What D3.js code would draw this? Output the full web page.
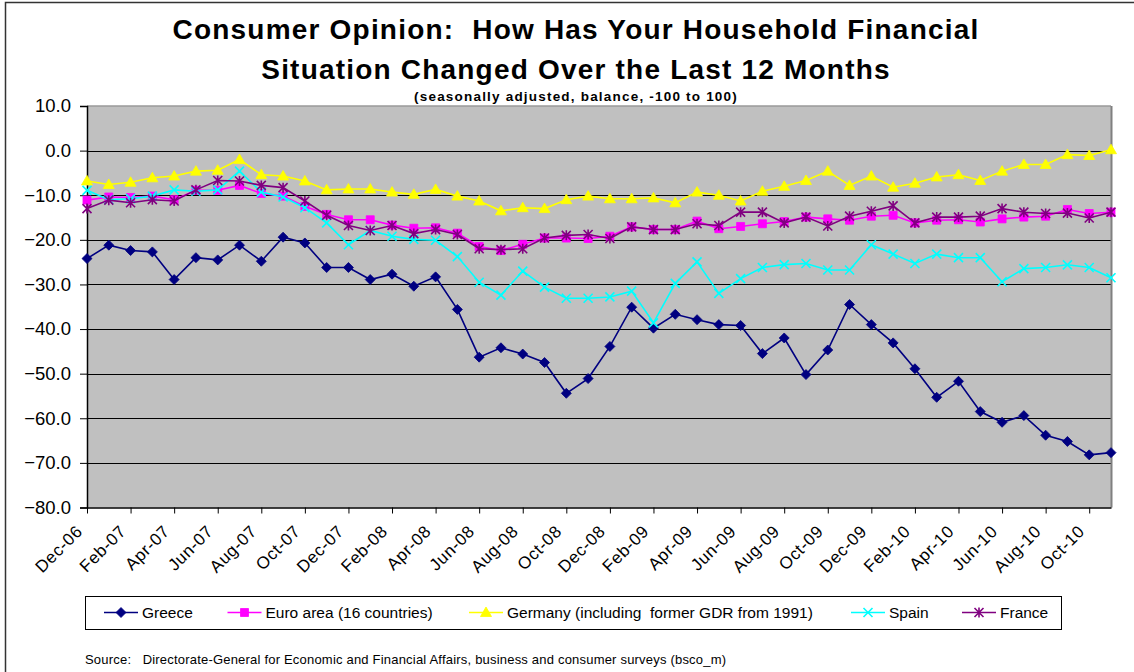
<!DOCTYPE html>
<html>
<head>
<meta charset="utf-8">
<script src="https://cdn.jsdelivr.net/npm/d3@7"></script>
<style>
  html, body { margin: 0; padding: 0; background: #fff; }
  svg { display: block; font-family: Arial, "Liberation Sans", sans-serif; }
  text { white-space: pre; }
</style>
</head>
<body>
<svg id="chart" width="1134" height="672"></svg>
<script>
// ---- Data ----
const months = ["Dec-06","Jan-07","Feb-07","Mar-07","Apr-07","May-07","Jun-07","Jul-07","Aug-07","Sep-07","Oct-07","Nov-07",
  "Dec-07","Jan-08","Feb-08","Mar-08","Apr-08","May-08","Jun-08","Jul-08","Aug-08","Sep-08","Oct-08","Nov-08",
  "Dec-08","Jan-09","Feb-09","Mar-09","Apr-09","May-09","Jun-09","Jul-09","Aug-09","Sep-09","Oct-09","Nov-09",
  "Dec-09","Jan-10","Feb-10","Mar-10","Apr-10","May-10","Jun-10","Jul-10","Aug-10","Sep-10","Oct-10","Nov-10"];

const greece = [-24.2,-21.2,-22.4,-22.7,-28.9,-24.0,-24.5,-21.2,-24.8,-19.4,-20.7,-26.2,
  -26.2,-28.9,-27.7,-30.4,-28.3,-35.6,-46.3,-44.2,-45.6,-47.5,-54.4,-51.1,
  -43.9,-35.1,-39.8,-36.7,-37.9,-39.0,-39.2,-45.5,-42.0,-50.2,-44.7,-34.5,
  -39.0,-43.1,-48.9,-55.3,-51.7,-58.5,-60.9,-59.4,-63.8,-65.2,-68.2,-67.7];

const euroArea = [-11.1,-10.4,-10.5,-10.2,-11.0,-8.9,-8.9,-7.8,-9.6,-10.2,-12.5,-14.3,
  -15.5,-15.5,-16.7,-17.4,-17.3,-18.5,-21.5,-22.4,-21.0,-19.6,-19.6,-19.7,
  -19.2,-17.1,-17.7,-17.7,-15.8,-17.5,-17.0,-16.4,-15.9,-14.9,-15.3,-15.6,
  -14.7,-14.5,-16.2,-15.6,-15.5,-16.0,-15.3,-14.9,-14.7,-13.2,-14.1,-13.8];

const germany = [-6.8,-7.6,-7.1,-6.1,-5.7,-4.6,-4.4,-2.0,-5.4,-5.7,-6.8,-8.8,
  -8.6,-8.6,-9.3,-9.8,-8.7,-10.2,-11.3,-13.5,-12.8,-13.0,-11.0,-10.2,
  -10.8,-10.8,-10.6,-11.7,-9.3,-10.0,-11.3,-9.1,-8.0,-6.7,-4.6,-7.8,
  -5.7,-8.2,-7.3,-5.9,-5.4,-6.7,-4.6,-3.1,-3.1,-0.9,-1.1,0.2];

const spain = [-8.9,-11.0,-10.8,-10.2,-8.8,-9.1,-8.8,-4.6,-9.3,-10.4,-12.8,-16.2,
  -21.1,-17.9,-19.2,-19.9,-20.1,-23.75,-29.5,-32.4,-27.0,-30.6,-33.1,-33.1,
  -32.8,-31.5,-38.6,-29.75,-24.95,-32.0,-28.7,-26.2,-25.55,-25.3,-26.75,-26.75,
  -21.1,-23.2,-25.3,-23.2,-24.0,-24.0,-29.4,-26.45,-26.2,-25.6,-26.2,-28.5];

const france = [-13.0,-11.1,-11.7,-11.0,-11.3,-8.8,-6.7,-6.8,-7.8,-8.3,-11.3,-14.5,
  -16.8,-17.9,-16.8,-18.6,-17.7,-18.8,-22.0,-22.2,-22.0,-19.6,-19.0,-18.8,
  -19.7,-17.1,-17.7,-17.7,-16.4,-16.8,-13.8,-13.8,-16.2,-14.9,-16.9,-14.7,
  -13.6,-12.4,-16.2,-14.9,-14.9,-14.7,-13.0,-13.8,-14.1,-14.0,-15.1,-13.8];

const yTicks = [10,0,-10,-20,-30,-40,-50,-60,-70,-80];

const seriesNames = ["Greece","Euro area (16 countries)","Germany (including  former GDR from 1991)","Spain","France"];
const seriesColors = ["#000080","#FF00FF","#FFFF00","#00FFFF","#800080"];
const seriesMarkers = ["diamond","square","triangle","x","star"];

const titleLines = ["Consumer Opinion:  How Has Your Household Financial","Situation Changed Over the Last 12 Months"];
const subtitle = "(seasonally adjusted, balance, -100 to 100)";
const sourceText = "Source:   Directorate-General for Economic and Financial Affairs, business and consumer surveys (bsco_m)";

// ---- Layout ----
const svg = d3.select("#chart");
const plot = {left: 87, right: 1111, top: 106, bottom: 507.5};
const FONT = "Arial, 'Liberation Sans', sans-serif";

const series = [greece, euroArea, germany, spain, france].map((v, i) => ({
  name: seriesNames[i], color: seriesColors[i], marker: seriesMarkers[i], values: v
}));

const x = d3.scalePoint().domain(months).range([plot.left, plot.right]);
const y = d3.scaleLinear().domain([-80, 10]).range([plot.bottom, plot.top]);

// outer border
svg.append("rect").attr("x", 5.5).attr("y", 2.5).attr("width", 1200).attr("height", 700)
  .attr("fill", "#fff").attr("stroke", "#333").attr("stroke-width", 1.5);

// plot background
svg.append("rect").attr("x", plot.left).attr("y", plot.top)
  .attr("width", plot.right - plot.left).attr("height", plot.bottom - plot.top)
  .attr("fill", "#C0C0C0");

// gridlines
svg.append("g").selectAll("line").data(yTicks.filter(d => d !== -80 && d !== 10)).join("line")
  .attr("x1", plot.left).attr("x2", plot.right)
  .attr("y1", d => Math.round(y(d)) + 0.5).attr("y2", d => Math.round(y(d)) + 0.5)
  .attr("stroke", "#000").attr("stroke-width", 1);

// plot border (top light grey, right grey)
svg.append("line").attr("x1", plot.left).attr("x2", plot.right).attr("y1", plot.top).attr("y2", plot.top)
  .attr("stroke", "#9a9a9a").attr("stroke-width", 1.5);
svg.append("line").attr("x1", plot.right + 0.5).attr("x2", plot.right + 0.5).attr("y1", plot.top).attr("y2", plot.bottom)
  .attr("stroke", "#808080").attr("stroke-width", 2);

// y axis
const yAxis = d3.axisLeft(y).tickValues(yTicks).tickFormat(d3.format(".1f")).tickSize(7).tickPadding(9);
const gy = svg.append("g").attr("transform", `translate(${plot.left},0)`).call(yAxis);
gy.select(".domain").attr("stroke", "#000").attr("stroke-width", 1.5);
gy.selectAll(".tick line").attr("stroke", "#000");
gy.selectAll(".tick text").attr("font-size", 18.5).attr("fill", "#000").attr("font-family", FONT);

// x axis
const xTickVals = months.filter((d, i) => i % 2 === 0);
const xAxis = d3.axisBottom(x).tickValues(xTickVals).tickSize(6).tickSizeOuter(0);
const gx = svg.append("g").attr("transform", `translate(0,${plot.bottom})`).call(xAxis);
gx.select(".domain").attr("stroke", "#000").attr("stroke-width", 1.5);
gx.selectAll(".tick line").attr("stroke", "#000");
gx.selectAll(".tick text")
  .attr("font-size", 17).attr("fill", "#000").attr("font-family", FONT)
  .attr("letter-spacing", 0.6)
  .attr("text-anchor", "end")
  .attr("dy", null).attr("y", 0)
  .attr("transform", "translate(-4,25) rotate(-45)");

// symbols
function markerPath(type) {
  switch (type) {
    case "diamond": return "M0,-5L5,0L0,5L-5,0Z";
    case "square": return "M-4,-4L4,-4L4,4L-4,4Z";
    case "triangle": return "M0,-5.5L5.5,4L-5.5,4Z";
    case "x": return "M-4.5,-4.5L4.5,4.5M-4.5,4.5L4.5,-4.5";
    case "star": return "M-4.5,-4.5L4.5,4.5M-4.5,4.5L4.5,-4.5M0,-5L0,5";
  }
}
function drawMarker(g, type, color) {
  const p = g.append("path").attr("d", markerPath(type));
  if (type === "x" || type === "star") {
    p.attr("fill", "none").attr("stroke", color).attr("stroke-width", 1.6);
  } else {
    p.attr("fill", color).attr("stroke", color).attr("stroke-width", 0.8);
  }
}

const line = d3.line().x((d, i) => x(months[i])).y(d => y(d));

series.forEach(s => {
  const g = svg.append("g");
  g.append("path").datum(s.values).attr("d", line)
    .attr("fill", "none").attr("stroke", s.color).attr("stroke-width", 1.6);
  s.values.forEach((v, i) => {
    const mg = g.append("g").attr("transform", `translate(${x(months[i])},${y(v)})`);
    drawMarker(mg, s.marker, s.color);
  });
});

// title
const title = svg.append("g").attr("font-weight", "bold").attr("text-anchor", "middle").attr("fill", "#000");
title.selectAll("text.t").data(titleLines).join("text").attr("class", "t")
  .attr("x", 576).attr("y", (d, i) => 39 + i * 40)
  .attr("font-size", 28).attr("letter-spacing", 1.2).text(d => d);
title.append("text").attr("x", 576).attr("y", 101).attr("font-size", 13.5)
  .attr("letter-spacing", 1.2).text(subtitle);

// legend
const legend = svg.append("g");
legend.append("rect").attr("x", 85.5).attr("y", 596.5).attr("width", 976).attr("height", 33)
  .attr("fill", "#fff").attr("stroke", "#000").attr("stroke-width", 1);
const legendX = [104, 227.5, 469, 851, 962];
series.forEach((s, i) => {
  const lg = legend.append("g").attr("transform", `translate(${legendX[i]},612.5)`);
  lg.append("line").attr("x1", 0).attr("x2", 34).attr("y1", 0).attr("y2", 0)
    .attr("stroke", s.color).attr("stroke-width", 1.6);
  const mg = lg.append("g").attr("transform", "translate(17,0)");
  drawMarker(mg, s.marker, s.color);
  lg.append("text").attr("x", 38).attr("y", 5.5).attr("font-size", 15.5).attr("fill", "#000").text(s.name);
});

// source
svg.append("text").attr("x", 85).attr("y", 664).attr("font-size", 13)
  .attr("letter-spacing", 0.2).attr("fill", "#000").text(sourceText);
</script>
</body>
</html>
